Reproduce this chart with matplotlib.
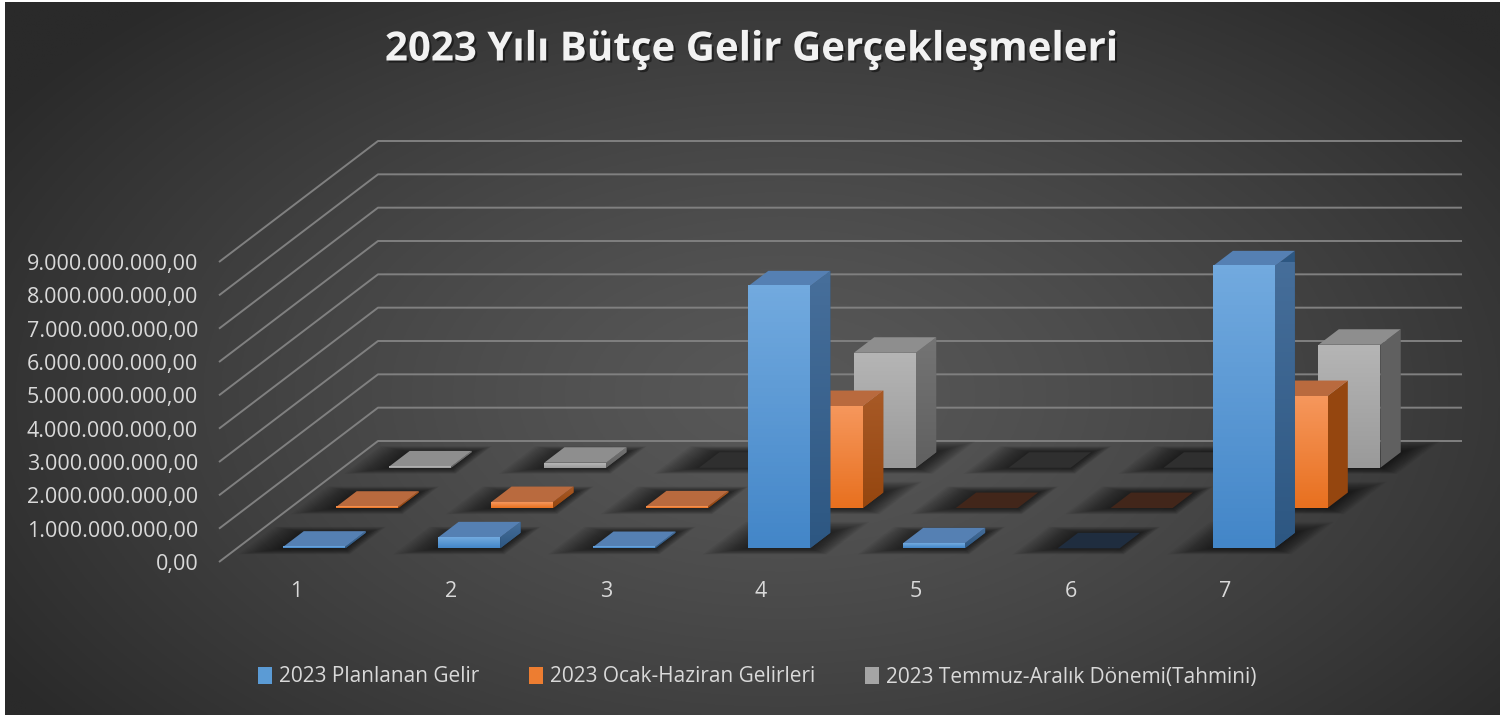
import numpy as np
import matplotlib
matplotlib.use('Agg')
import matplotlib.pyplot as plt
from matplotlib.patches import Polygon, Rectangle
from matplotlib.colors import LinearSegmentedColormap
import matplotlib.patheffects as pe

# ---------------- data ----------------
categories = ['1', '2', '3', '4', '5', '6', '7']
planned = [0.05e9, 0.33e9, 0.04e9, 7.86e9, 0.15e9, 0.0, 8.46e9]
first_half = [0.04e9, 0.18e9, 0.05e9, 3.06e9, 0.0, 0.0, 3.36e9]
second_half = [0.04e9, 0.15e9, 0.0, 3.45e9, 0.0, 0.0, 3.69e9]
series_names = ['2023 Planlanan Gelir', '2023 Ocak-Haziran Gelirleri',
                '2023 Temmuz-Aralık Dönemi(Tahmini)']
value_ticks = [0, 1e9, 2e9, 3e9, 4e9, 5e9, 6e9, 7e9, 8e9, 9e9]
value_tick_labels = ['0,00', '1.000.000.000,00', '2.000.000.000,00', '3.000.000.000,00',
                     '4.000.000.000,00', '5.000.000.000,00', '6.000.000.000,00',
                     '7.000.000.000,00', '8.000.000.000,00', '9.000.000.000,00']
title = '2023 Yılı Bütçe Gelir Gerçekleşmeleri'

plt.rcParams['font.family'] = ['Open Sans', 'DejaVu Sans']

# ---------------- style ----------------
styles = [
    dict(front=('#72aadf', '#4386c8'), side=('#476f9b', '#2d5782'), top='#5580b3',
         zero='#1f2d3f', legend='#5b9bd5'),
    dict(front=('#f6975c', '#e8701f'), side=('#a85a27', '#95460f'), top='#b96a3e',
         zero='#42261a', legend='#ed7d31'),
    dict(front=('#b5b5b5', '#9a9a9a'), side=('#747474', '#606060'), top='#8e8e8e',
         zero='#2f2f2f', legend='#a5a5a5'),
]

FW, FH = 1504, 715
fig = plt.figure(figsize=(FW / 100, FH / 100), dpi=100)
fig.patch.set_facecolor('white')

# background radial gradient
bg = fig.add_axes([5 / FW, 0, 1495 / FW, 713 / FH])
yy, xx = np.mgrid[0:1:300j, 0:1:600j]
r = np.sqrt(((xx - 0.52) / 0.62) ** 2 + ((yy - 0.45) / 0.75) ** 2)
r = np.clip(r, 0, 1) ** 1.3
c0, c1 = 0x58 / 255, 0x2a / 255
g = c0 + (c1 - c0) * r
bg.imshow(np.dstack([g, g, g]), extent=[0, 1, 0, 1], aspect='auto', origin='lower')
bg.set_axis_off()

# main axes: front plane of the floor
x_left, x_right, y_zero, y_top = 219, 1303, 562, 262
ax = fig.add_axes([x_left / FW, (FH - y_zero) / FH, (x_right - x_left) / FW,
                   (y_zero - y_top) / FH])
ax.set_autoscale_on(False)
ax.set_xlim(0.5, 7.5)
ax.set_ylim(0, 9e9)
ax.patch.set_alpha(0)
for s in ax.spines.values():
    s.set_visible(False)

# oblique depth shift (per unit of floor depth)
DX = 159 / ((x_right - x_left) / 7)
DV = 121 / ((y_zero - y_top) / 9e9)


def P(x, v, d):
    return (x + DX * d, v + DV * d)


# gridlines: left wall diagonals + back wall horizontals
for t in value_ticks:
    pts = [P(0.5, t, 0), P(0.5, t, 1), P(7.5, t, 1)]
    ax.plot([p[0] for p in pts], [p[1] for p in pts], color='#808080', lw=1.4,
            clip_on=False, zorder=1, solid_capstyle='butt')

BW = 0.40      # bar width (category units)
BD = 0.128     # bar depth (floor fraction)
row_front = [0.113, 0.446, 0.779]
series = [planned, first_half, second_half]

# soft shadows on the floor
NL = 16
for k in range(3):
    d0 = row_front[k]
    for i, v in enumerate(series[k]):
        x = i + 1
        tall = v > 1e9
        for j in range(NL, 0, -1):
            f = j / NL
            exl = 0.24 * f
            exr = (0.16 if tall else 0.08) * f
            edf = 0.05 * f
            edb = (0.09 if tall else 0.05) * f
            poly = [P(x - BW / 2 - exl, 0, d0 - edf), P(x + BW / 2 + exr, 0, d0 - edf),
                    P(x + BW / 2 + exr, 0, d0 + BD + edb),
                    P(x - BW / 2 - exl, 0, d0 + BD + edb)]
            ax.add_patch(Polygon(poly, closed=True, facecolor='black', edgecolor='none',
                                 alpha=0.045, zorder=2, clip_on=False))


def grad_cmap(c_top, c_bot):
    return LinearSegmentedColormap.from_list('g', [c_bot, c_top])


grad = np.linspace(0, 1, 64).reshape(-1, 1)
z = 5
for k in [2, 1, 0]:
    st = styles[k]
    d0 = row_front[k]
    d1 = d0 + BD
    for i, v in enumerate(series[k]):
        x = i + 1
        x0, x1 = x - BW / 2, x + BW / 2
        z += 1
        if v <= 0:
            top = [P(x0, 0, d0), P(x1, 0, d0), P(x1, 0, d1), P(x0, 0, d1)]
            ax.add_patch(Polygon(top, closed=True, facecolor=st['zero'], edgecolor='none',
                                 zorder=z, clip_on=False))
            continue
        # side face (gradient)
        side = [P(x1, 0, d0), P(x1, 0, d1), P(x1, v, d1), P(x1, v, d0)]
        sp = Polygon(side, closed=True, facecolor=st['side'][1], edgecolor='none',
                     zorder=z, clip_on=False)
        ax.add_patch(sp)
        ex0, ex1 = P(x1, 0, d0)[0], P(x1, 0, d1)[0]
        im = ax.imshow(grad, extent=[ex0, ex1, P(x1, 0, d0)[1], P(x1, v, d1)[1]],
                       origin='lower', aspect='auto',
                       cmap=grad_cmap(st['side'][0], st['side'][1]), zorder=z)
        im.set_clip_path(sp)
        # top face
        top = [P(x0, v, d0), P(x1, v, d0), P(x1, v, d1), P(x0, v, d1)]
        ax.add_patch(Polygon(top, closed=True, facecolor=st['top'], edgecolor='none',
                             zorder=z, clip_on=False))
        # front face (gradient)
        fx0, fy0 = P(x0, 0, d0)
        fx1, fy1 = P(x1, v, d0)
        im = ax.imshow(grad, extent=[fx0, fx1, fy0, fy1], origin='lower', aspect='auto',
                       cmap=grad_cmap(st['front'][0], st['front'][1]), zorder=z + 0.5)
        im.set_clip_on(False)
        z += 1

ax.set_xlim(0.5, 7.5)
ax.set_ylim(0, 9e9)

# ticks
ax.set_xticks(range(1, 8))
ax.set_xticklabels(categories)
ax.set_yticks(value_ticks)
ax.set_yticklabels(value_tick_labels)
ax.tick_params(axis='both', length=0, colors='#d9d9d9', labelsize=15.5)
ax.tick_params(axis='y', pad=15)
ax.tick_params(axis='x', pad=14)

# title
fig.text(751 / FW, 1 - 50 / FH, title, ha='center', va='center', fontsize=29,
         fontweight='bold', color='#f2f2f2',
         path_effects=[pe.withSimplePatchShadow(offset=(1.5, -1.5), shadow_rgbFace='black',
                                                alpha=0.45)])

# legend
handles = [Rectangle((0, 0), 1, 1, facecolor=s['legend'], edgecolor='none') for s in styles]
fig.legend(handles, series_names, loc='center', bbox_to_anchor=(757 / FW, 1 - 677 / FH),
           ncol=3, frameon=False, fontsize=15, labelcolor='#d9d9d9', handlelength=0.7,
           handleheight=0.9, handletextpad=0.3, columnspacing=2.4)

fig.savefig('out.png', dpi=100, facecolor=fig.get_facecolor())
